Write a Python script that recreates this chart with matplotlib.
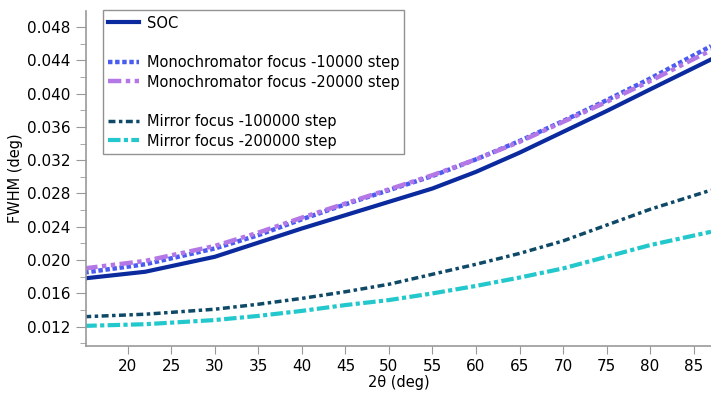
import matplotlib
matplotlib.use('Agg')
import matplotlib.pyplot as plt
from matplotlib.lines import Line2D
from matplotlib.ticker import MultipleLocator

two_theta = [15, 22, 30, 35, 40, 45, 50, 55, 60, 65, 70, 75, 80, 87]
soc       = [0.0178, 0.0186, 0.0204, 0.0221, 0.0238, 0.0254, 0.0270, 0.0286, 0.0306,
             0.0329, 0.0354, 0.0379, 0.0405, 0.0441]
mono_10k  = [0.0185, 0.0195, 0.0214, 0.0230, 0.0249, 0.0267, 0.0284, 0.0301, 0.0321,
             0.0343, 0.0367, 0.0392, 0.0418, 0.0457]
mono_20k  = [0.0190, 0.0199, 0.0217, 0.0233, 0.0251, 0.0268, 0.0285, 0.0302, 0.0321,
             0.0342, 0.0366, 0.0390, 0.0415, 0.0452]
mirr_100k = [0.0132, 0.0135, 0.0141, 0.0147, 0.0154, 0.0162, 0.0171, 0.0183, 0.0195,
             0.0208, 0.0223, 0.0242, 0.0261, 0.0284]
mirr_200k = [0.0121, 0.0123, 0.0128, 0.0133, 0.0139, 0.0146, 0.0152, 0.0160, 0.0169,
             0.0179, 0.0190, 0.0204, 0.0218, 0.0234]

plt.rcParams['font.family'] = 'DejaVu Sans'
plt.rcParams['font.size'] = 10.5

fig = plt.figure(figsize=(7.11, 3.98), dpi=100)
ax = fig.add_axes([0.121, 0.131, 0.879, 0.841])

l_soc, = ax.plot(two_theta, soc, color='#0a2a9e', lw=3, label='SOC')
l_m1, = ax.plot(two_theta, mono_10k, color='#4a5cf0', lw=3.2, ls=(0, (1, 0.6)),
                label='Monochromator focus -10000 step')
l_m2, = ax.plot(two_theta, mono_20k, color='#b477e6', lw=3.2, ls=(0, (3, 1, 1, 1, 1, 1)),
                label='Monochromator focus -20000 step')
l_r1, = ax.plot(two_theta, mirr_100k, color='#0e4a68', lw=2.5, ls=(0, (2, 1, 1, 1)),
                label='Mirror focus -100000 step')
l_r2, = ax.plot(two_theta, mirr_200k, color='#22c8cc', lw=3, ls=(0, (3, 0.8, 1, 0.8)),
                label='Mirror focus -200000 step')

blank = Line2D([], [], color='none')
handles = [l_soc, blank, l_m1, l_m2, blank, l_r1, l_r2]
labels = ['SOC', ' ', l_m1.get_label(), l_m2.get_label(), ' ',
          l_r1.get_label(), l_r2.get_label()]
leg = ax.legend(handles, labels, loc='upper left', bbox_to_anchor=(0.027, 1.002),
                borderaxespad=0, fontsize=10.5, frameon=True, fancybox=False,
                handlelength=2.1, handletextpad=0.55, labelspacing=0.32, borderpad=0.35)
leg.get_frame().set_edgecolor('#777777')
leg.get_frame().set_linewidth(1.0)

ax.set_xlim(15.2, 87)
ax.set_ylim(0.0097, 0.0499)
ax.set_xticks(range(20, 90, 5))
ax.yaxis.set_major_locator(MultipleLocator(0.004))
ax.yaxis.set_minor_locator(MultipleLocator(0.002))
ax.yaxis.set_major_formatter(plt.FormatStrFormatter('%.3f'))

for side in ['top', 'right']:
    ax.spines[side].set_visible(False)
for side in ['left', 'bottom']:
    ax.spines[side].set_color('#999999')
    ax.spines[side].set_linewidth(1.2)
ax.tick_params(axis='both', which='major', color='#999999', labelsize=11)
ax.tick_params(axis='y', which='major', length=7, pad=4)
ax.tick_params(axis='y', which='minor', length=4, color='#999999')
ax.tick_params(axis='x', which='major', length=5.5, pad=4)

ax.set_xlabel('2θ (deg)', fontsize=10.5, labelpad=1)
ax.set_ylabel('FWHM (deg)', fontsize=10.5, labelpad=3)

fig.savefig('out.png', dpi=100)
